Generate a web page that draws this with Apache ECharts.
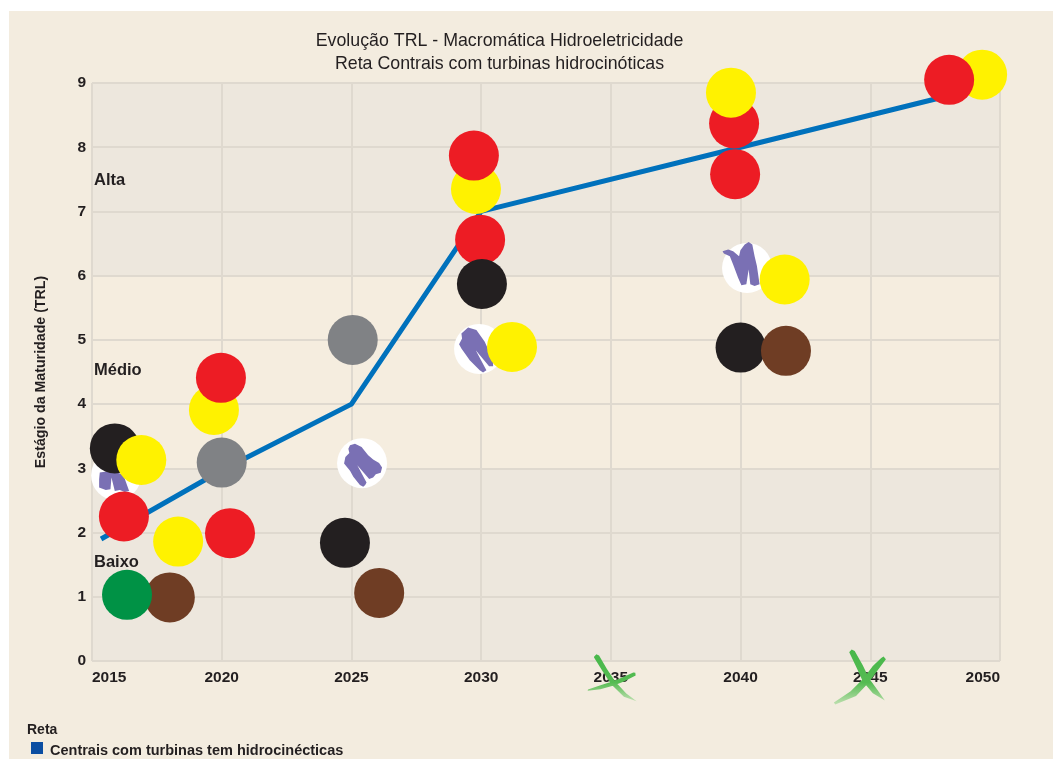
<!DOCTYPE html>
<html><head><meta charset="utf-8">
<script src="https://cdn.jsdelivr.net/npm/echarts@6/dist/echarts.min.js"></script>
<style>html,body{margin:0;padding:0;background:#fff}#c{width:1053px;height:759px}</style>
</head><body><div id="c"></div>
<script>
const titleLines = ['Evolução TRL - Macromática Hidroeletricidade', 'Reta Contrais com turbinas hidrocinóticas'];
const yName = 'Estágio da Maturidade (TRL)';
const legendHeading = 'Reta';
const lineName = 'Centrais com turbinas tem hidrocinécticas';
const linePoints = [[2015.35,1.9],[2020,2.97],[2025,4],[2030,7],[2040,8],[2050,9]];
const levelLabels = [[2015,7.49,'Alta'],[2015,4.52,'Médio'],[2015,1.54,'Baixo']];
const whiteDots = [[2015.93,2.89],[2025.41,3.08],[2029.92,4.86],[2040.25,6.12]];
const brownDots = [[2018.0,0.99],[2026.07,1.06],[2041.75,4.83]];
const greenDots = [[2016.35,1.03]];
const yellowDots = [[2018.32,1.86],[2019.7,3.91],[2029.8,7.35],[2049.31,9.13]];
const redDots = [[2016.23,2.25],[2020.32,1.99],[2019.97,4.41],[2029.72,7.87],[2029.96,6.56],[2039.75,8.37],[2039.79,7.58],[2048.04,9.05]];
const blackDots = [[2015.88,3.31],[2024.75,1.84],[2030.03,5.87],[2040.0,4.88]];
const greyDots = [[2020,3.09],[2025.05,5.0]];
const topYellowDots = [[2016.9,3.13],[2031.19,4.89],[2039.63,8.85],[2041.7,5.94]];
const crossMarks = [[2035.05,-0.26],[2044.6,-0.25]];
const bandColors = ['#ede7dd','#ede7dd','#ede7dd','#f5eddf','#f5eddf','#f5eddf','#ede7dd','#ede7dd','#ede7dd'];

const blobPaths = [
 'path://M60 70L90 65L130 75L148 125L135 128L120 122L105 125L95 85L92 120L78 122L58 115L58 90Z',
 'path://M90 45L105 40L125 50L145 75L160 88L178 98L187 112L183 128L168 132L160 142L148 147L112 105L140 157L136 165L130 170L120 165L100 140L90 122L72 100L76 80L88 68L85 55Z',
 'path://M95 340L115 322L140 330L165 365L190 420L190 438L178 438L138 390L170 450L160 456L150 450L120 420L95 385L88 372L97 355Z',
 'path://M68 65L85 60L100 65L118 80L122 62L135 45L147 37L158 45L165 80L172 110L180 165L165 170L152 165L147 120L140 165L125 168L115 145L100 105L90 80L72 72Z'
];
const blobBoxes = [[30,21,-2,6],[38,43,1,2],[34,45,-3,1],[37,44,-6,-4]];
const crossPaths = [
 'path://M19 8L26 0L34 4L57 44L82 82L115 118L146 141L108 128L70 90L45 52L19 10ZM142 56L143 64L108 82L78 94L38 105L0 110L1 106L34 95L73 82L103 70L136 55Z',
 'path://M48 8L55 1L64 5L88 48L107 88L132 122L154 154L118 132L88 96L70 56L48 10ZM143 26L150 22L157 30L132 64L106 100L68 140L6 166L2 160L52 126L90 88L118 50Z'
];
const crossSizes = [[49,47],[52,55]];

const dark='#231f20';
const font='"Liberation Sans", Arial, sans-serif';
function dots(name,data,color){return {name,type:'scatter',data,symbol:'circle',symbolSize:50,clip:false,
  itemStyle:{color,opacity:1},emphasis:{disabled:true},silent:true};}

const chart = echarts.init(document.getElementById('c'),null,{renderer:'canvas'});
chart.setOption({
 animation:false,
 backgroundColor:'#ffffff',
 graphic:[{type:'rect',z:-10,silent:true,shape:{x:9,y:11,width:1044,height:748},style:{fill:'#f3ecdf'}},
  {type:'text',left:27,top:723,style:{text:legendHeading,font:'bold 14px '+font,fill:dark}}],
 title:{text:titleLines.join('\n'),left:494.5,top:25,textAlign:'center',
   textStyle:{fontFamily:font,fontSize:17.8,fontWeight:'normal',color:dark,lineHeight:23}},
 legend:{left:26,top:737,itemWidth:12,itemHeight:12,itemGap:0,
   data:[{name:lineName,icon:'rect',itemStyle:{color:'#0b4ea2'}}],
   formatter:n=>'{t|'+n+'}',
   textStyle:{fontFamily:font,fontSize:14.5,fontWeight:'bold',color:dark,
     rich:{t:{fontFamily:font,fontSize:14.5,fontWeight:'bold',color:dark,padding:[6,0,0,2]}}},selectedMode:false},
 grid:{left:92,right:53,top:83,bottom:98},
 xAxis:{type:'value',min:2015,max:2050,interval:5,
   axisLine:{show:false},axisTick:{show:false},
   splitLine:{show:true,lineStyle:{color:'#dfd9cf',width:2}},
   axisLabel:{margin:9,color:dark,fontFamily:font,fontSize:15.5,fontWeight:'bold',
     alignMinLabel:'left',alignMaxLabel:'right',formatter:v=>String(v)}},
 yAxis:{type:'value',min:0,max:9,interval:1,name:yName,nameLocation:'middle',nameGap:44,
   nameTextStyle:{color:dark,fontFamily:'"Liberation Sans Narrow", '+font,fontSize:14.2,fontWeight:'bold'},
   axisLine:{show:false},axisTick:{show:false},
   splitLine:{show:true,lineStyle:{color:'#dfd9cf',width:2}},
   splitArea:{show:true,areaStyle:{color:bandColors,opacity:1}},
   axisLabel:{margin:6,color:dark,fontFamily:font,fontSize:15.5,fontWeight:'bold'}},
 series:[
  {name:lineName,type:'line',data:linePoints,symbol:'none',smooth:false,z:2,
   lineStyle:{color:'#0071bc',width:5,cap:'butt',join:'miter'},itemStyle:{color:'#0071bc'}},
  dots('white',whiteDots,'#ffffff'),
  ...blobPaths.map((p,i)=>({name:'blob'+i,type:'scatter',data:[whiteDots[i]],symbol:p,
     symbolSize:[blobBoxes[i][0],blobBoxes[i][1]],symbolOffset:[blobBoxes[i][2],blobBoxes[i][3]],
     clip:false,silent:true,itemStyle:{color:'#7a70b4',opacity:1}})),
  dots('yellow',yellowDots,'#fff200'),
  dots('red',redDots,'#ed1c24'),
  dots('black',blackDots,'#231f20'),
  dots('brown',brownDots,'#6f3d24'),
  dots('green',greenDots,'#009245'),
  dots('grey',greyDots,'#808285'),
  dots('yellowTop',topYellowDots,'#fff200'),
  {name:'levels',type:'scatter',data:levelLabels,symbolSize:0,clip:false,silent:true,itemStyle:{opacity:1},
   label:{show:true,position:'right',distance:2,formatter:p=>p.data[2],color:dark,fontFamily:font,fontSize:16.5,fontWeight:'bold'}},
  ...crossMarks.map((c,i)=>({name:'cross'+i,type:'scatter',data:[c],symbol:crossPaths[i],symbolSize:crossSizes[i],clip:false,silent:true,z:5,
     itemStyle:{opacity:1,color:new echarts.graphic.LinearGradient(0,0,0,1,[
       {offset:0,color:'#47b84a'},{offset:0.6,color:'#55bb52'},{offset:1,color:'#bfe0b0'}])}}))
 ]
});
</script></body></html>
